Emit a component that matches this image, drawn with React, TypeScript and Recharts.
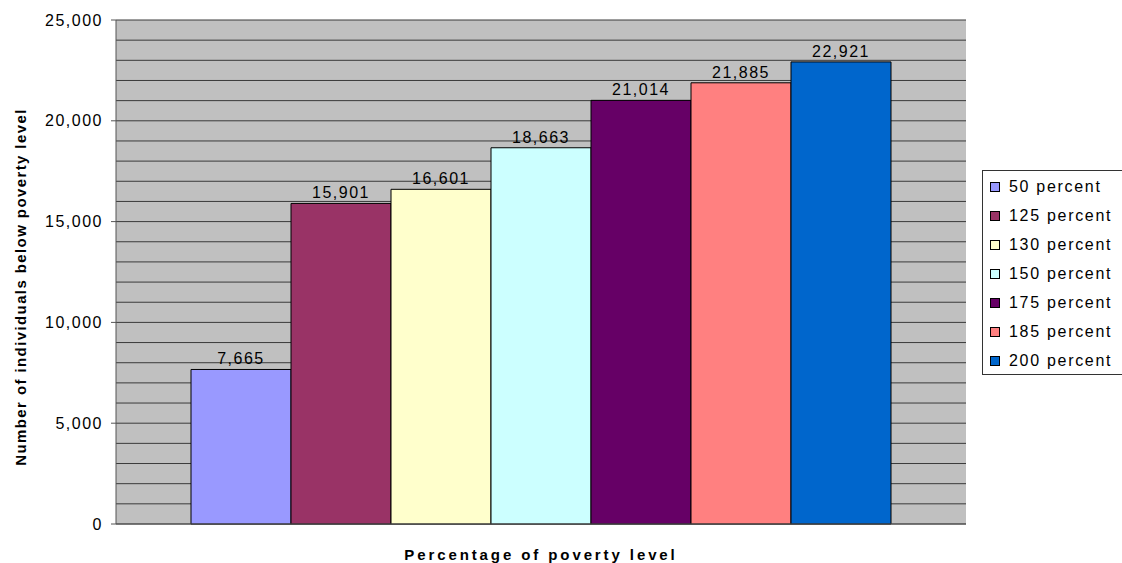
import React from "react";
import {
  BarChart,
  Bar,
  XAxis,
  YAxis,
  CartesianGrid,
  Legend,
  LabelList,
} from "recharts";

const SERIES = [
  "50 percent",
  "125 percent",
  "130 percent",
  "150 percent",
  "175 percent",
  "185 percent",
  "200 percent",
];

const VALUES = [7665, 15901, 16601, 18663, 21014, 21885, 22921];

const COLORS = [
  "#9999FF",
  "#993366",
  "#FFFFCC",
  "#CCFFFF",
  "#660066",
  "#FF8080",
  "#0066CC",
];

const Y_TICKS = [0, 5000, 10000, 15000, 20000, 25000];

// minor gridlines every 1,000
const GRID_VALUES = Array.from({ length: 26 }, (_, i) => i * 1000);

const FONT = "'Liberation Sans', Arial, sans-serif";

const row: any = { name: "" };
SERIES.forEach((s, i) => {
  row[s] = VALUES[i];
});
const data = [row];

const fmt = (v: any) => Number(v).toLocaleString("en-US");

function LegendBox() {
  return (
    <div
      style={{
        border: "1px solid #333",
        borderRight: "none",
        background: "#fff",
        padding: "1px 0 0 7px",
        fontFamily: FONT,
        fontSize: 16,
        letterSpacing: 1.7,
        color: "#000",
        boxSizing: "border-box",
        width: 140,
        height: 205,
      }}
    >
      {SERIES.map((s, i) => (
        <div
          key={s}
          style={{
            display: "flex",
            alignItems: "center",
            height: 29.1,
          }}
        >
          <span
            style={{
              display: "inline-block",
              width: 8,
              height: 8,
              border: "1px solid #000",
              background: COLORS[i],
              marginRight: 9,
              flexShrink: 0,
            }}
          />
          {s}
        </div>
      ))}
    </div>
  );
}

export default function App() {
  return (
    <div
      style={{
        position: "absolute",
        left: 0,
        top: 0,
        width: 1122,
        height: 563,
        background: "#fff",
      }}
    >
      <BarChart
        width={1122}
        height={563}
        data={data}
        margin={{ top: 20, right: 16, bottom: 0, left: 0 }}
        barCategoryGap={75}
        barGap={0}
      >
        <CartesianGrid
          vertical={false}
          horizontalValues={GRID_VALUES}
          fill="#C0C0C0"
          fillOpacity={1}
          stroke="#3a3a3a"
          strokeWidth={1}
        />
        <XAxis
          dataKey="name"
          tick={false}
          tickLine={false}
          axisLine={{ stroke: "#555" }}
          height={39}
          label={{
            value: "Percentage of poverty level",
            position: "insideBottom",
            offset: 3,
            style: {
              fontFamily: FONT,
              fontSize: 15,
              fontWeight: "bold",
              letterSpacing: 2.9,
              fill: "#000",
            },
          }}
        />
        <YAxis
          width={116}
          domain={[0, 25000]}
          ticks={Y_TICKS}
          interval={0}
          tickFormatter={fmt}
          tickSize={5}
          tickMargin={8}
          axisLine={{ stroke: "#555" }}
          tickLine={{ stroke: "#555" }}
          tick={{
            fontFamily: FONT,
            fontSize: 16,
            letterSpacing: 1.5,
            fill: "#000",
          }}
          label={{
            value: "Number of individuals below poverty level",
            angle: -90,
            position: "center",
            dx: -37,
            dy: 15,
            style: {
              fontFamily: FONT,
              fontSize: 15,
              fontWeight: "bold",
              letterSpacing: 1.4,
              fill: "#000",
              textAnchor: "middle",
            },
          }}
        />
        <Legend
          layout="vertical"
          align="right"
          verticalAlign="top"
          content={() => <LegendBox />}
          wrapperStyle={{ left: 982, top: 170, width: 140 }}
        />
        {SERIES.map((s, i) => (
          <Bar
            key={s}
            dataKey={s}
            fill={COLORS[i]}
            stroke="#000"
            strokeWidth={1}
            isAnimationActive={false}
          >
            <LabelList
              dataKey={s}
              position="top"
              offset={5}
              formatter={fmt}
              style={{
                fontFamily: FONT,
                fontSize: 16,
                letterSpacing: 1.5,
                fill: "#000",
              }}
            />
          </Bar>
        ))}
      </BarChart>
    </div>
  );
}
